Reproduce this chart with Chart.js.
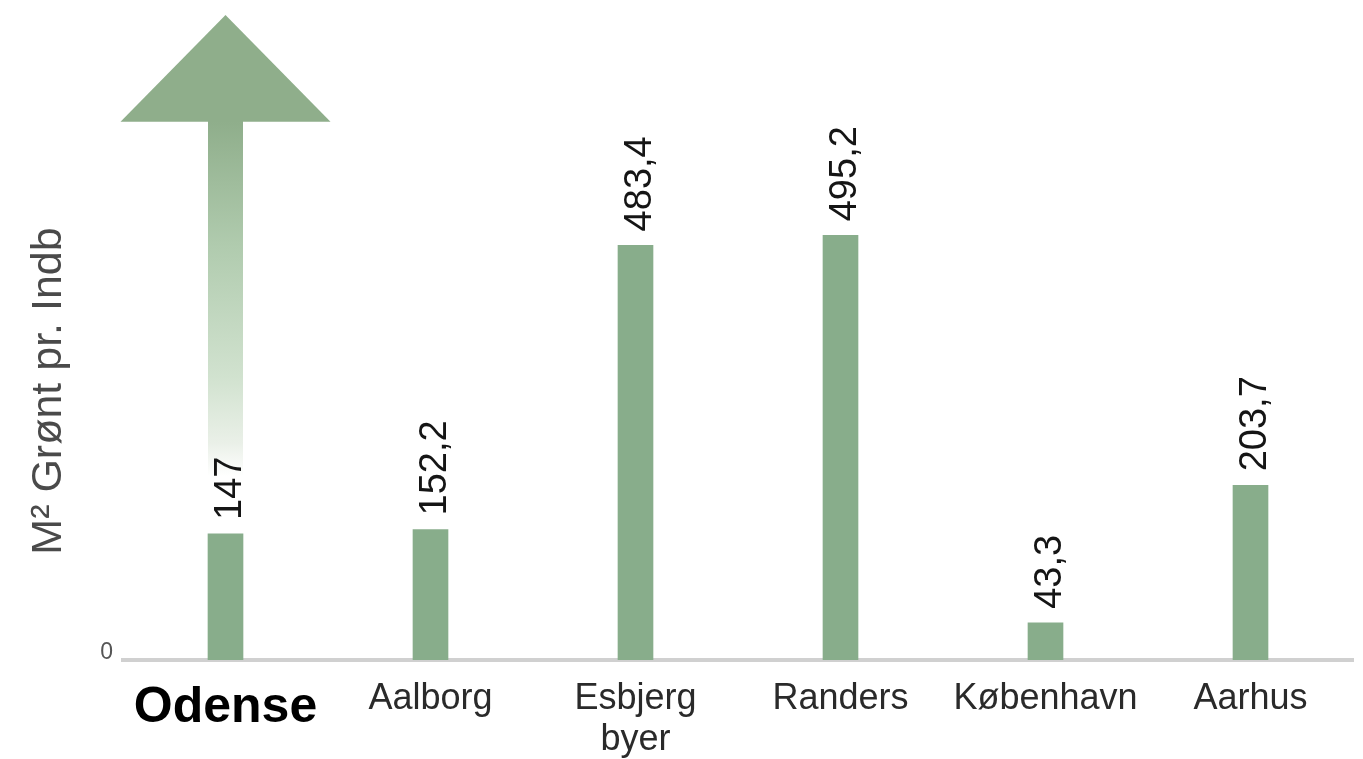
<!DOCTYPE html>
<html>
<head>
<meta charset="utf-8">
<script src="https://cdn.jsdelivr.net/npm/chart.js@4/dist/chart.umd.min.js"></script>
<style>
html, body { margin: 0; padding: 0; background: #fff; }
#wrap { width: 1363px; height: 759px; }
</style>
</head>
<body>
<div id="wrap"><canvas id="myChart"></canvas></div>
<script>
/* M² grønt pr. indbygger */
var cityLabels = ['Odense', 'Aalborg', ['Esbjerg', 'byer'], 'Randers', 'København', 'Aarhus'];
var greenValues = [147, 152.2, 483.4, 495.2, 43.3, 203.7];
var yTicks = [0];
var yMax = 752;
var yTitle = 'M² Grønt pr. Indb';

var FONT = "'Liberation Sans', Arial, sans-serif";

// pil over Odense + aksetitel (tegnes bag søjlerne)
const arrowPlugin = {
	id: 'arrowPlugin',
	beforeDatasetsDraw(chart) {
		const ctx = chart.ctx;
		const bar = chart.getDatasetMeta(0).data[0];
		const top = chart.chartArea.top;
		const half = bar.width / 2;
		const headH = bar.width * 3.05;
		const headW = bar.width * 3;
		const baseY = top + headH;

		ctx.save();
		// skaft med fade
		const grad = ctx.createLinearGradient(0, baseY, 0, bar.y);
		grad.addColorStop(0, '#8fae8b');
		grad.addColorStop(0.3, '#b0cbae');
		grad.addColorStop(0.62, '#d1e2cf');
		grad.addColorStop(0.78, '#eaf0e8');
		grad.addColorStop(0.86, '#ffffff');
		grad.addColorStop(1, '#ffffff');
		ctx.fillStyle = grad;
		ctx.fillRect(bar.x - half, baseY - 1, bar.width, bar.y - baseY + 1);

		// pilehoved
		ctx.fillStyle = '#8fae8b';
		ctx.beginPath();
		ctx.moveTo(bar.x, top);
		ctx.lineTo(bar.x + headW, baseY);
		ctx.lineTo(bar.x - headW, baseY);
		ctx.closePath();
		ctx.fill();

		// y-akse titel
		ctx.translate(61, 391);
		ctx.rotate(-Math.PI / 2);
		ctx.fillStyle = '#4a4a4a';
		ctx.font = '43px ' + FONT;
		ctx.textAlign = 'center';
		ctx.textBaseline = 'alphabetic';
		ctx.fillText(yTitle, 0, 0);
		ctx.restore();
	}
};

// værdier over søjlerne, lodret
const valueLabelPlugin = {
	id: 'valueLabelPlugin',
	afterDatasetsDraw(chart) {
		const ctx = chart.ctx;
		const meta = chart.getDatasetMeta(0);
		ctx.save();
		ctx.fillStyle = '#151515';
		ctx.font = '38px ' + FONT;
		ctx.textAlign = 'left';
		ctx.textBaseline = 'alphabetic';
		meta.data.forEach(function (bar, i) {
			var txt = String(greenValues[i]).replace('.', ',');
			ctx.save();
			ctx.translate(bar.x + 15, bar.y - 14);
			ctx.rotate(-Math.PI / 2);
			ctx.fillText(txt, 0, 0);
			ctx.restore();
		});
		ctx.restore();
	}
};

var chartDataset = {
	labels: cityLabels,
	datasets: [{
		data: greenValues,
		backgroundColor: '#88ad8b',
		borderWidth: 0,
		barThickness: 35
	}]
};

var chartOption = {
	responsive: true,
	maintainAspectRatio: false,
	animation: false,
	layout: {
		padding: {
			left: 0,
			right: 10,
			top: 15,
			bottom: 0
		}
	},
	plugins: {
		legend: { display: false },
		tooltip: { enabled: false }
	},
	scales: {
		x: {
			grid: {
				display: false,
				drawTicks: false
			},
			border: {
				display: true,
				color: '#d0d0d0',
				width: 4
			},
			ticks: {
				autoSkip: false,
				maxRotation: 0,
				minRotation: 0,
				padding: 18,
				color: function (c) {
					return c.index === 0 ? '#000' : '#2a2a2a';
				},
				font: function (c) {
					if (c.index === 0) {
						return { family: FONT, size: 50, weight: 'bold' };
					}
					return { family: FONT, size: 36, weight: 'normal', lineHeight: 1.15 };
				}
			},
			afterFit: function (scale) {
				scale.height = 99;
			}
		},
		y: {
			min: 0,
			max: yMax,
			afterBuildTicks: function (scale) {
				scale.ticks = yTicks.map(function (v) { return { value: v }; });
			},
			grid: {
				display: false,
				drawTicks: false
			},
			border: { display: false },
			ticks: {
				padding: 10,
				labelOffset: -7,
				color: '#555',
				font: { family: FONT, size: 23 },
				callback: function (v) {
					return String(v);
				}
			},
			afterFit: function (scale) {
				scale.width = 123;
				scale.paddingTop = 0;
				scale.paddingBottom = 0;
			}
		}
	}
};

var myChart = new Chart(document.getElementById('myChart'), {
	type: 'bar',
	data: chartDataset,
	options: chartOption,
	plugins: [arrowPlugin, valueLabelPlugin]
});
</script>
</body>
</html>
